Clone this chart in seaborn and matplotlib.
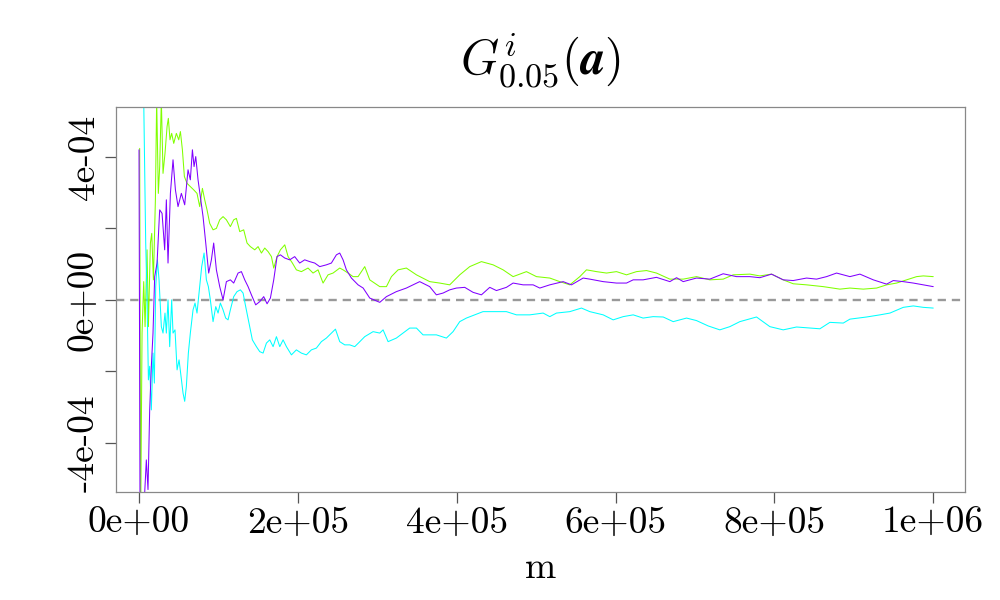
import numpy as np
import pandas as pd
import seaborn as sns
import matplotlib
matplotlib.use("Agg")
import matplotlib.pyplot as plt

# ---- data (m in thousands, values in units of 1e-4) ----
purple_m = [0, 1.26, 5.0, 7.1, 9.2, 11.3, 13.4, 15.5, 17.6, 19.7, 22.7, 26.0, 29.0, 32.3, 34.4, 36.5,
            39.5, 42.8, 45.8, 49.1, 53.3, 57.5, 61.7, 64.6, 67.2, 69.3, 71.4, 74.3, 77.2, 80.6, 84.0,
            87.7, 91.1, 94.0, 97.4, 101.6, 105.8, 110.0, 115.0, 119.2, 124.7, 128.9, 133.1, 137.3,
            141.5, 146.9, 152.0, 157.0, 161.2, 165.4, 169.6, 173.8, 178.0, 183.5, 189.7, 196.0, 202.3,
            208.6, 214.9, 221.2, 227.5, 235.9, 242.2, 248.5, 252.7, 256.9, 261.1, 267.4, 275.8,
            282.2, 290.5, 303.1, 311.5, 324.0, 336.6, 353.4, 366.0, 374.4, 382.8, 391.2, 399.6, 410.1,
            420.6, 431.1, 441.6, 450.0, 462.6, 471.0, 483.6, 496.2, 504.6, 517.2, 534.0, 544.5, 559.2,
            567.6, 584.4, 601.2, 613.8, 622.2, 634.7, 651.5,
            668.4, 676.8, 685.2, 701.9, 718.7, 735.5, 752.3, 769.1, 781.7, 796.4, 811.1, 823.7, 840.5,
            853.1, 865.7, 878.3, 895.1, 907.7, 924.5, 941.3, 949.7, 962.3, 974.9, 987.5, 1000.0]
purple_v = [4.20, -6.06, -5.78, -5.41, -4.48, -5.31, -3.08, -1.86, -0.93, 0.65, 1.03, 2.52, 2.42, 1.40,
            2.80, 1.03, 2.98, 3.92, 3.08, 2.61, 2.98, 2.66, 3.64, 3.36, 4.20, 3.73, 4.01, 3.36, 2.89,
            2.33, 1.59, 0.75, 1.12, 1.59, 0.84, 0.37, 0.00, 0.51, 0.56, 0.47, 0.75, 0.79, 0.56, 0.37,
            0.14, -0.14, -0.05, 0.09, -0.11, 0.05, 0.56, 1.21, 1.26, 1.17, 1.12, 1.21, 1.03, 1.12, 1.07,
            1.03, 0.93, 0.98, 1.03, 1.26, 1.31, 1.12, 0.84, 0.61, 0.42,
            0.33, 0.05, -0.07, 0.09, 0.23, 0.33, 0.51, 0.37, 0.14, 0.19, 0.28, 0.33, 0.35, 0.21, 0.14,
            0.35, 0.26, 0.35, 0.47, 0.42, 0.42, 0.33, 0.42, 0.51, 0.42, 0.61, 0.58, 0.51, 0.47, 0.47,
            0.56, 0.56, 0.63,
            0.51, 0.62, 0.51, 0.61, 0.58, 0.73, 0.65, 0.65, 0.62, 0.72, 0.56, 0.54, 0.61, 0.58, 0.65,
            0.75, 0.65, 0.72, 0.56, 0.44, 0.54, 0.51, 0.47, 0.42, 0.37]

green_m = [0.8, 2.1, 3.8, 5.9, 7.6, 10.1, 11.8, 14.3, 16.0, 18.1, 20.6, 22.2, 24.3, 26.0, 28.1, 30.2,
           32.7, 35.3, 36.9, 39.0, 41.1, 43.7, 47.0, 50.0, 52.1, 54.6, 57.1, 60.5, 64.6, 68.8, 73.0,
           76.4, 79.8, 82.7, 85.6, 89.0, 93.2, 97.4, 101.6, 105.8, 110.0, 115.0, 119.2, 122.6, 126.8,
           131.8, 136.0, 140.2, 145.7, 149.9, 154.1, 158.3, 162.5, 166.7, 169.6, 173.8, 178.0, 183.5,
           187.7, 193.1, 198.1, 204.4, 212.8, 219.1, 225.4, 231.7, 238.0, 244.3, 252.7, 256.9, 263.2,
           269.5, 275.8,
           284.2, 290.5, 303.1, 311.5, 317.8, 326.2, 336.6, 349.3, 366.0, 378.6, 391.2, 403.8, 416.4,
           431.1, 445.8, 458.4, 471.0, 487.8, 500.4, 517.2, 529.8, 542.4, 555.0, 563.4, 576.0, 588.6,
           601.2, 613.8, 626.4, 639.0, 651.5,
           668.4, 685.2, 701.9, 718.7, 735.5, 748.1, 769.1, 781.7, 796.4, 811.1, 823.7, 840.5, 861.5,
           882.5, 895.1, 911.9, 928.7, 941.3, 953.9, 966.5, 979.1, 987.5, 1000.0]
green_v = [4.24, -6.06, -0.93, 0.51, -0.75, 1.40, -0.75, 1.59, 1.86, 0.56, 2.80, 5.60, 2.98, 3.73, 5.60,
           3.54, 4.10, 4.85, 5.08, 4.48, 4.66, 4.38, 4.66, 4.48, 4.71, 4.20, 3.45, 3.26, 3.17, 3.08,
           2.98, 2.61, 3.12, 2.80, 2.52, 2.14, 1.96, 2.00, 2.24, 2.33, 2.24, 2.05, 2.24, 2.28, 1.91,
           1.96, 1.59, 1.49, 1.40, 1.49, 1.31, 1.45, 1.35, 1.21, 0.89, 1.21, 1.40, 1.54, 1.21, 1.03,
           0.84, 0.79, 0.89, 0.75, 0.84, 0.47, 0.70, 0.75, 0.89, 0.84, 0.75, 0.65, 0.65,
           0.93, 0.56, 0.37, 0.37, 0.65, 0.84, 0.89, 0.70, 0.51, 0.47, 0.42, 0.70, 0.93, 1.07, 0.98,
           0.84, 0.65, 0.79, 0.65, 0.61, 0.51, 0.42, 0.65, 0.84, 0.79, 0.75, 0.79, 0.70, 0.79, 0.82,
           0.75,
           0.58, 0.58, 0.65, 0.56, 0.58, 0.70, 0.72, 0.67, 0.72, 0.56, 0.45, 0.42, 0.37, 0.30, 0.33,
           0.30, 0.33, 0.42, 0.47, 0.56, 0.65, 0.67, 0.65]

cyan_m = [5.9, 8.4, 10.1, 11.8, 13.4, 15.5, 17.6, 19.3, 21.0, 23.1, 25.2, 28.1, 30.2, 32.7, 34.4, 36.5,
          38.6, 41.1, 42.8, 45.3, 47.9, 50.4, 52.9, 55.4, 57.5, 59.6, 62.1, 64.6, 68.0, 70.5, 73.0,
          76.4, 78.9, 81.9, 84.8, 87.3, 89.8, 93.2, 96.6, 99.5, 102.4, 105.8, 109.1, 112.1, 115.0,
          119.2, 123.4, 127.6, 131.0, 134.3, 138.5, 142.7, 147.8, 152.0, 156.2, 160.4, 164.6, 168.8,
          173.0, 177.2, 181.4, 185.6, 191.9, 198.1, 204.4, 210.7, 217.0, 223.3, 229.6, 235.9, 242.2,
          247.3, 252.7, 259.0, 265.3, 271.6, 277.1,
          284.2, 294.7, 303.1, 307.3, 313.6, 324.0, 332.4, 340.8, 349.3, 357.6, 374.4, 387.0, 395.4,
          403.8, 412.2, 422.6, 433.1, 450.0, 462.6, 475.2, 492.0, 508.8, 517.2, 525.6, 542.4, 557.1,
          567.6, 584.4, 597.0, 609.6, 622.2, 634.7, 647.3,
          660.0, 672.6, 689.4, 701.9, 716.6, 731.3, 743.9, 756.5, 777.5, 794.3, 811.1, 827.9, 844.7,
          857.3, 869.9, 886.7, 895.1, 916.1, 932.9, 945.5, 962.3, 974.9, 987.5, 1000.0]
cyan_v = [5.60, 1.59, 0.00, -2.24, -1.86, -3.08, -1.49, -2.33, 0.37, 1.12, 0.56, -0.75, -0.93, -0.37,
          -0.93, 0.00, -1.31, 0.00, -0.93, -0.84, -1.96, -1.68, -2.14, -2.61, -2.84, -2.42, -1.49,
          -0.93, -0.28, -0.09, -0.37, 0.37, 0.93, 1.31, 0.56, 0.37, 0.00, -0.61, -0.19, -0.37, -0.09,
          -0.28, -0.51, -0.56, -0.28, 0.09, 0.23, 0.28, 0.19, -0.19, -0.65, -1.12, -1.31, -1.45,
          -1.49, -1.21, -1.12, -1.31, -1.03, -1.31, -1.12, -1.31, -1.54, -1.40, -1.49, -1.54, -1.40,
          -1.35, -1.17, -1.07, -0.93, -0.82, -1.17, -1.26, -1.26, -1.31, -1.19,
          -1.03, -0.89, -0.93, -0.84, -1.17, -1.07, -0.93, -0.79, -0.79, -0.98, -0.98, -1.07, -0.89,
          -0.61, -0.51, -0.42, -0.33, -0.33, -0.33, -0.42, -0.42, -0.37, -0.47, -0.37, -0.33, -0.23,
          -0.33, -0.42, -0.56, -0.47, -0.42, -0.51, -0.47,
          -0.48, -0.61, -0.51, -0.58, -0.73, -0.84, -0.75, -0.61, -0.48, -0.75, -0.84, -0.76, -0.79,
          -0.81, -0.63, -0.65, -0.54, -0.48, -0.42, -0.37, -0.21, -0.17, -0.21, -0.23]

series_names = ["green", "cyan", "purple"]
series_colors = ["#80FF00", "#00FFFF", "#8000FF"]
x_ticks = [0, 2e5, 4e5, 6e5, 8e5, 1e6]
x_tick_labels = ["0e+00", "2e+05", "4e+05", "6e+05", "8e+05", "1e+06"]
y_ticks = [-4e-4, -2e-4, 0, 2e-4, 4e-4]
y_tick_labels = ["-4e-04", "", "0e+00", "", "4e-04"]

frames = []
for name, mm, vv in [("green", green_m, green_v), ("cyan", cyan_m, cyan_v), ("purple", purple_m, purple_v)]:
    frames.append(pd.DataFrame({"m": np.array(mm) * 1e3, "value": np.array(vv) * 1e-4, "series": name}))
df = pd.concat(frames, ignore_index=True)

sns.set_style("white")
plt.rcParams["font.family"] = ["cmr10"]
plt.rcParams["mathtext.fontset"] = "cm"
plt.rcParams["axes.formatter.use_mathtext"] = True
plt.rcParams["text.color"] = "black"
plt.rcParams["axes.labelcolor"] = "black"
plt.rcParams["xtick.color"] = "black"
plt.rcParams["ytick.color"] = "black"

fig = plt.figure(figsize=(10, 6), dpi=100)
ax = fig.add_axes([0.116, 0.1805, 0.849, 0.6407])

sns.lineplot(data=df, x="m", y="value", hue="series", hue_order=series_names,
             palette=dict(zip(series_names, series_colors)), estimator=None, sort=False,
             legend=False, linewidth=0.75, ax=ax)
ax.axhline(0, color="#999999", linestyle=(0, (3.5, 2.5)), linewidth=1.7, zorder=0.5)

ax.set_xlim(-29e3, 1.04e6)
ax.set_ylim(-5.37e-4, 5.39e-4)
ax.set_xticks(x_ticks)
ax.set_xticklabels(x_tick_labels, fontsize=27, color="black")
ax.set_yticks(y_ticks)
ax.set_yticklabels(y_tick_labels, fontsize=27, rotation=90, va="center", color="black")
ax.tick_params(axis="both", direction="out", length=8, width=0.9, color="#555555",
               labelcolor="black", bottom=True, left=True, pad=3)
for s in ax.spines.values():
    s.set_color("#888888")
    s.set_linewidth(0.9)
ax.set_xlabel("m", fontsize=27, labelpad=8, color="black")
ax.set_ylabel("")
ax.set_title(r"$G^i_{0.05}(\boldsymbol{a})$", fontsize=35, pad=24, color="black")

fig.savefig("out.png", dpi=100)
